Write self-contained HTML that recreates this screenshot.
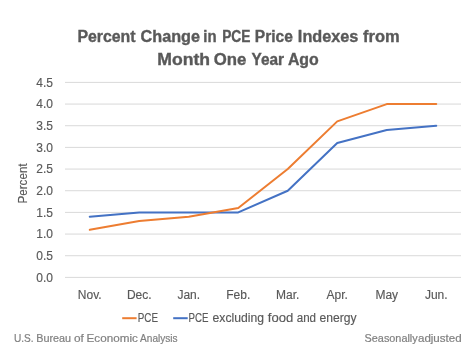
<!DOCTYPE html>
<html><head><meta charset="utf-8"><style>
html,body{margin:0;padding:0;background:#fff;width:474px;height:361px;overflow:hidden}
svg{display:block;will-change:transform}
text{font-family:"Liberation Sans",sans-serif}
</style></head><body>
<svg width="474" height="361" viewBox="0 0 474 361">
<rect width="474" height="361" fill="#fff"/>
<g fill="#595959" font-weight="bold" font-size="16" stroke="#595959" stroke-width="0.35"><text x="77.41" y="42" textLength="58.19" lengthAdjust="spacingAndGlyphs">Percent</text><text x="140.59" y="42" textLength="59.43" lengthAdjust="spacingAndGlyphs">Change</text><text x="203.37" y="42" textLength="13.23" lengthAdjust="spacingAndGlyphs">in</text><text x="222.14" y="42" textLength="28.31" lengthAdjust="spacingAndGlyphs">PCE</text><text x="254.83" y="42" textLength="38.05" lengthAdjust="spacingAndGlyphs">Price</text><text x="297.88" y="42" textLength="60.52" lengthAdjust="spacingAndGlyphs">Indexes</text><text x="363.14" y="42" textLength="36.59" lengthAdjust="spacingAndGlyphs">from</text><text x="157.30" y="65" textLength="52.78" lengthAdjust="spacingAndGlyphs">Month</text><text x="213.78" y="65" textLength="32.62" lengthAdjust="spacingAndGlyphs">One</text><text x="251.56" y="65" textLength="32.50" lengthAdjust="spacingAndGlyphs">Year</text><text x="287.90" y="65" textLength="30.90" lengthAdjust="spacingAndGlyphs">Ago</text></g>
<g stroke="#d9d9d9" stroke-width="1"><line x1="65.0" y1="277.40" x2="461.0" y2="277.40"/><line x1="65.0" y1="255.73" x2="461.0" y2="255.73"/><line x1="65.0" y1="234.07" x2="461.0" y2="234.07"/><line x1="65.0" y1="212.40" x2="461.0" y2="212.40"/><line x1="65.0" y1="190.73" x2="461.0" y2="190.73"/><line x1="65.0" y1="169.07" x2="461.0" y2="169.07"/><line x1="65.0" y1="147.40" x2="461.0" y2="147.40"/><line x1="65.0" y1="125.73" x2="461.0" y2="125.73"/><line x1="65.0" y1="104.07" x2="461.0" y2="104.07"/><line x1="65.0" y1="82.40" x2="461.0" y2="82.40"/></g>
<g fill="#595959" font-size="12" text-anchor="end" stroke="#595959" stroke-width="0.15"><text x="53" y="281.70">0.0</text><text x="53" y="260.03">0.5</text><text x="53" y="238.37">1.0</text><text x="53" y="216.70">1.5</text><text x="53" y="195.03">2.0</text><text x="53" y="173.37">2.5</text><text x="53" y="151.70">3.0</text><text x="53" y="130.03">3.5</text><text x="53" y="108.37">4.0</text><text x="53" y="86.70">4.5</text></g>
<text transform="translate(26.8,183.5) rotate(-90)" fill="#595959" font-size="12" text-anchor="middle" stroke="#595959" stroke-width="0.15" textLength="40.2" lengthAdjust="spacingAndGlyphs">Percent</text>
<g fill="#595959" font-size="12" text-anchor="middle" stroke="#595959" stroke-width="0.15"><text x="89.75" y="299">Nov.</text><text x="139.25" y="299">Dec.</text><text x="188.75" y="299">Jan.</text><text x="238.25" y="299">Feb.</text><text x="287.75" y="299">Mar.</text><text x="337.25" y="299">Apr.</text><text x="386.75" y="299">May</text><text x="436.25" y="299">Jun.</text></g>
<polyline points="89.75,216.73 139.25,212.40 188.75,212.40 238.25,212.40 287.75,190.73 337.25,143.07 386.75,130.07 436.25,125.73" fill="none" stroke="#4472c4" stroke-width="2" stroke-linejoin="round" stroke-linecap="round"/>
<polyline points="89.75,229.73 139.25,221.07 188.75,216.73 238.25,208.07 287.75,169.07 337.25,121.40 386.75,104.07 436.25,104.07" fill="none" stroke="#ed7d31" stroke-width="2" stroke-linejoin="round" stroke-linecap="round"/>
<line x1="122.2" y1="318.2" x2="136.6" y2="318.2" stroke="#ed7d31" stroke-width="2"/>
<line x1="173.2" y1="318.2" x2="187.7" y2="318.2" stroke="#4472c4" stroke-width="2"/>
<g fill="#595959" font-size="12" stroke="#595959" stroke-width="0.15"><text x="137.78" y="322.2" textLength="20.28" lengthAdjust="spacingAndGlyphs">PCE</text><text x="188.59" y="322.2" textLength="19.96" lengthAdjust="spacingAndGlyphs">PCE</text><text x="212.59" y="322.2" textLength="51.42" lengthAdjust="spacingAndGlyphs">excluding</text><text x="267.80" y="322.2" textLength="25.46" lengthAdjust="spacingAndGlyphs">food</text><text x="296.72" y="322.2" textLength="19.34" lengthAdjust="spacingAndGlyphs">and</text><text x="319.50" y="322.2" textLength="37.06" lengthAdjust="spacingAndGlyphs">energy</text></g>
<g fill="#808080" font-size="11" stroke="#808080" stroke-width="0.2"><text x="14.01" y="341.5" textLength="19.62" lengthAdjust="spacingAndGlyphs">U.S.</text><text x="36.26" y="341.5" textLength="34.86" lengthAdjust="spacingAndGlyphs">Bureau</text><text x="74.06" y="341.5" textLength="9.87" lengthAdjust="spacingAndGlyphs">of</text><text x="86.60" y="341.5" textLength="51.21" lengthAdjust="spacingAndGlyphs">Economic</text><text x="140.10" y="341.5" textLength="37.53" lengthAdjust="spacingAndGlyphs">Analysis</text><text x="364.61" y="342" textLength="53.07" lengthAdjust="spacingAndGlyphs">Seasonally</text><text x="417.98" y="342" textLength="43.65" lengthAdjust="spacingAndGlyphs">adjusted</text></g>
</svg>
</body></html>
